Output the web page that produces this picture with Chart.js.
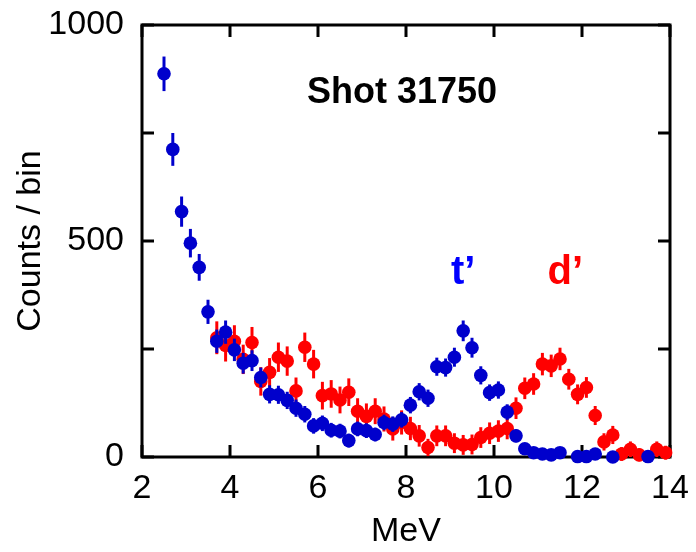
<!DOCTYPE html>
<html>
<head>
<meta charset="utf-8">
<script src="https://cdn.jsdelivr.net/npm/chart.js@4/dist/chart.umd.min.js"></script>
<style>
  html, body { margin: 0; padding: 0; background: #fff; }
  #wrap { width: 696px; height: 552px; }
</style>
</head>
<body>
<div id="wrap"><canvas id="spectrum"></canvas></div>
<script>
// energy bins (MeV)
const energies = [2.5, 2.7, 2.9, 3.1, 3.3, 3.5, 3.7, 3.9, 4.1, 4.3, 4.5, 4.7, 4.9, 5.1, 5.3, 5.5,
  5.7, 5.9, 6.1, 6.3, 6.5, 6.7, 6.9, 7.1, 7.3, 7.5, 7.7, 7.9, 8.1, 8.3, 8.5, 8.7, 8.9, 9.1,
  9.3, 9.5, 9.7, 9.9, 10.1, 10.3, 10.5, 10.7, 10.9, 11.1, 11.3, 11.5, 11.7, 11.9, 12.1, 12.3,
  12.5, 12.7, 12.9, 13.1, 13.3, 13.5, 13.7, 13.9];

// blue series (t')
const tCounts = [887, 712, 568, 495, 439, 336, 268, 289, 248, 217, 223, 184, 145, 144, 131, 113,
  99, 72, 78, 62, 60, 38, 65, 61, 52, 80, 76, 86, 120, 151, 136, 209, 207, 231,
  292, 253, 189, 149, 155, 104, 49, 19, 10, 7, 5, 10, null, 1, 1, 7,
  null, 0, null, null, null, 1, null, null];
const tErrors = [40, 38, 35, 33, 31, 28, 27, 27, 26, 24, 24, 23, 21, 21, 20, 20,
  19, 18, 18, 17, 17, 16, 17, 17, 16, 18, 18, 18, 19, 20, 20, 21, 21, 22,
  24, 23, 21, 19, 20, 18, 15, 13, 11, 10, 9, 10, 0, 8, 8, 10,
  0, 7, 0, 0, 0, 8, 0, 0];

// red series (d')
const dCounts = [null, null, null, null, null, null, 276, 258, 268, 226, 265, 175, 196, 231, 222, 153,
  254, 215, 142, 146, 132, 150, 106, 94, 106, 88, 65, 80, 66, 49, 22, 49, 49, 32,
  28, 29, 45, 55, 60, 66, 113, 159, 169, 215, 211, 227, 180, 145, 161, 96,
  35, 51, 7, 18, 5, null, 18, 10];
const dErrors = [0, 0, 0, 0, 0, 0, 38, 37, 37, 34, 36, 33, 33, 34, 34, 31,
  34, 33, 32, 32, 31, 32, 30, 30, 30, 29, 27, 28, 27, 25, 20, 24, 24, 23,
  23, 23, 24, 25, 25, 25, 25, 25, 25, 26, 26, 26, 24, 23, 24, 22,
  20, 21, 16, 18, 15, 0, 18, 16];

const xTicks = [2, 4, 6, 8, 10, 12, 14];
const yTicks = [0, 250, 500, 750, 1000];
const yLabelled = [0, 500, 1000];

// text drawn inside the plot, placed in data coordinates
const notes = [
  { text: 'Shot 31750', x: 7.91, y: 843, color: '#000000', size: 36 },
  { text: 't\u2019', x: 9.3, y: 426, color: '#0000ff', size: 40 },
  { text: 'd\u2019', x: 11.62, y: 426, color: '#ff0000', size: 40 }
];

const FONT = '"Liberation Sans", Arial, sans-serif';

function toPoints(counts, errors) {
  const pts = [];
  counts.forEach((c, i) => {
    if (c !== null) pts.push({ x: energies[i], y: c, err: errors[i] });
  });
  return pts;
}

// vertical error bars, drawn under each dataset's markers
const errorBars = {
  id: 'errorBars',
  beforeDatasetDraw(chart, args) {
    const ds = chart.data.datasets[args.index];
    const { ctx, scales: { x, y } } = chart;
    ctx.save();
    ctx.strokeStyle = ds.backgroundColor;
    ctx.lineWidth = 3;
    ds.data.forEach(p => {
      const px = x.getPixelForValue(p.x);
      ctx.beginPath();
      ctx.moveTo(px, y.getPixelForValue(p.y - p.err));
      ctx.lineTo(px, y.getPixelForValue(p.y + p.err));
      ctx.stroke();
    });
    ctx.restore();
  }
};

// box frame with inward ticks on all four sides, plus the text notes
const frame = {
  id: 'frame',
  beforeDatasetsDraw(chart) {
    const { ctx, chartArea: a, scales: { x, y } } = chart;
    ctx.save();
    ctx.strokeStyle = '#000';
    ctx.lineWidth = 3;
    ctx.strokeRect(a.left, a.top, a.right - a.left, a.bottom - a.top);
    const len = 12;
    ctx.beginPath();
    xTicks.forEach(v => {
      const px = x.getPixelForValue(v);
      ctx.moveTo(px, a.bottom); ctx.lineTo(px, a.bottom - len);
      ctx.moveTo(px, a.top); ctx.lineTo(px, a.top + len);
    });
    yTicks.forEach(v => {
      const py = y.getPixelForValue(v);
      ctx.moveTo(a.left, py); ctx.lineTo(a.left + len, py);
      ctx.moveTo(a.right, py); ctx.lineTo(a.right - len, py);
    });
    ctx.stroke();

    ctx.textAlign = 'center';
    ctx.textBaseline = 'middle';
    notes.forEach(n => {
      ctx.font = 'bold ' + n.size + 'px ' + FONT;
      ctx.fillStyle = n.color;
      ctx.fillText(n.text, x.getPixelForValue(n.x), y.getPixelForValue(n.y));
    });
    ctx.restore();
  }
};

new Chart(document.getElementById('spectrum'), {
  type: 'scatter',
  data: {
    datasets: [
      {
        label: "t'",
        data: toPoints(tCounts, tErrors),
        backgroundColor: '#0000cc',
        borderColor: '#0000cc',
        pointRadius: 6.8,
        pointBorderWidth: 0,
        clip: false
      },
      {
        label: "d'",
        data: toPoints(dCounts, dErrors),
        backgroundColor: '#ff0000',
        borderColor: '#ff0000',
        pointRadius: 6.8,
        pointBorderWidth: 0,
        clip: false
      }
    ]
  },
  options: {
    responsive: true,
    maintainAspectRatio: false,
    animation: false,
    layout: { padding: { left: 0, right: 26, top: 25, bottom: 0 } },
    plugins: {
      legend: { display: false },
      tooltip: { enabled: false }
    },
    scales: {
      x: {
        type: 'linear',
        min: 2,
        max: 14,
        afterFit: scale => {
          scale.height = 95;
          scale.paddingLeft = 0;
          scale.paddingRight = 0;
        },
        grid: { display: false, drawTicks: false },
        border: { display: false },
        ticks: {
          stepSize: 2,
          padding: 11,
          color: '#000',
          maxRotation: 0,
          font: { family: FONT, size: 34 }
        },
        title: {
          display: true,
          text: 'MeV',
          color: '#000',
          padding: { top: 0, bottom: 0 },
          font: { family: FONT, size: 34 }
        }
      },
      y: {
        type: 'linear',
        min: 0,
        max: 1000,
        afterFit: scale => {
          scale.width = 142;
          scale.paddingTop = 0;
          scale.paddingBottom = 0;
        },
        grid: { display: false, drawTicks: false },
        border: { display: false },
        ticks: {
          stepSize: 250,
          padding: 18,
          color: '#000',
          font: { family: FONT, size: 34 },
          callback: v => (yLabelled.includes(v) ? v : '')
        },
        title: {
          display: true,
          text: 'Counts / bin',
          color: '#000',
          padding: { top: 10, bottom: 0 },
          font: { family: FONT, size: 34 }
        }
      }
    }
  },
  plugins: [errorBars, frame]
});
</script>
</body>
</html>
